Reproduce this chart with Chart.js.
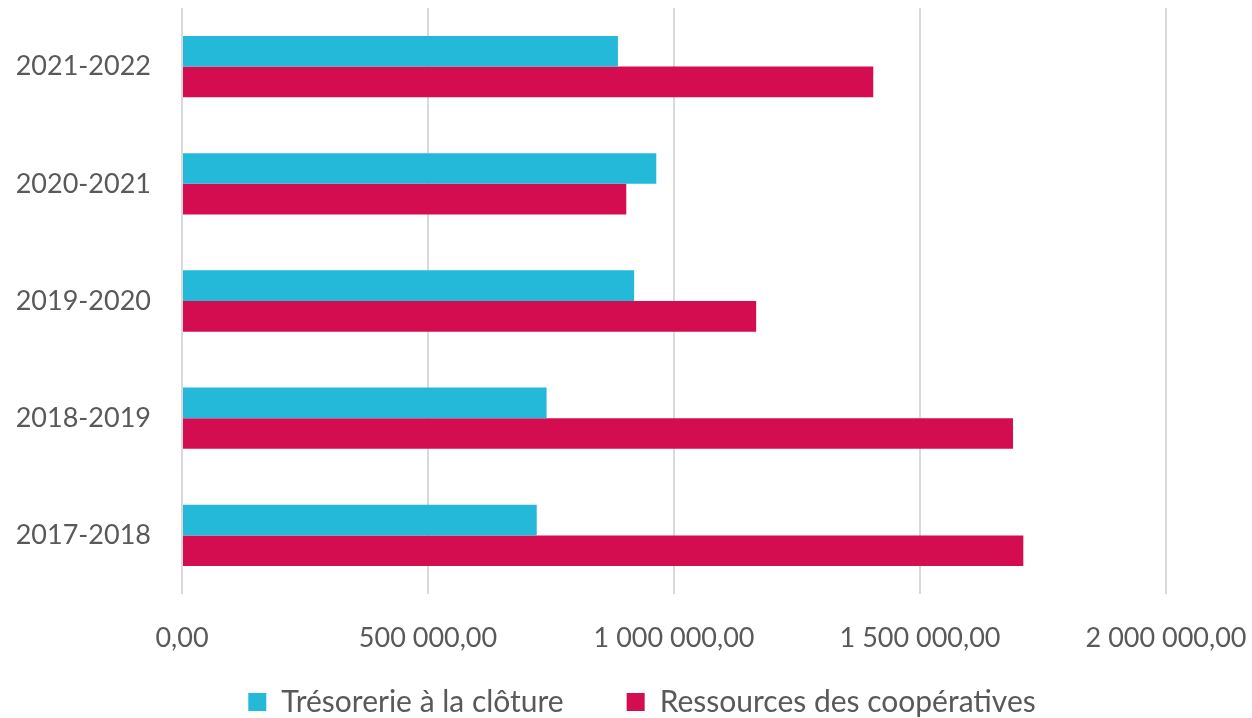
<!DOCTYPE html>
<html>
<head>
<meta charset="utf-8">
<script src="https://cdn.jsdelivr.net/npm/chart.js@4/dist/chart.umd.min.js"></script>
<style>
  html, body { margin: 0; padding: 0; background: #fff; }
  #wrap { width: 1252px; height: 718px; }
</style>
</head>
<body>
<div id="wrap"><canvas id="chart"></canvas></div>
<script>
// Data (top to bottom)
const years = ['2021-2022', '2020-2021', '2019-2020', '2018-2019', '2017-2018'];
const tresorerie = [886000, 964000, 919000, 741000, 721000];
const ressources = [1405000, 903000, 1167000, 1689000, 1710000];
const seriesNames = ['Trésorerie à la clôture', 'Ressources des coopératives'];

const textColor = '#595959';
const fontFamily = 'Lato, "Noto Sans", sans-serif';

// French style number: 1 500 000,00
function formatFr(v) {
    const parts = Number(v).toFixed(2).split('.');
    const intPart = parts[0].replace(/\B(?=(\d{3})+(?!\d))/g, ' ');
    return intPart + ',' + parts[1];
}

const ctx = document.getElementById('chart').getContext('2d');
new Chart(ctx, {
    type: 'bar',
    data: {
        labels: years,
        datasets: [
            { label: seriesNames[0], data: tresorerie, backgroundColor: '#25B9D9', borderWidth: 0 },
            { label: seriesNames[1], data: ressources, backgroundColor: '#D40C50', borderWidth: 0 },
        ],
    },
    options: {
        indexAxis: 'y',
        responsive: true,
        maintainAspectRatio: false,
        animation: false,
        // negative right padding shifts the centred legend to the right
        layout: { padding: { top: 8, right: -32, left: 0, bottom: -9 } },
        datasets: {
            bar: { categoryPercentage: 0.523, barPercentage: 1.0 },
        },
        scales: {
            x: {
                min: 0,
                max: 2000000,
                ticks: {
                    stepSize: 500000,
                    color: textColor,
                    font: { family: fontFamily, size: 27 },
                    // mirrored so the labels are not clipped to the short axis box
                    mirror: true,
                    padding: -60,
                    callback: (v) => formatFr(v),
                },
                grid: { color: '#D9D9D9', lineWidth: 2, drawTicks: false },
                border: { display: false },
                afterFit: (scale) => {
                    scale.height = 30;
                    scale.paddingLeft = 0;
                    scale.paddingRight = 86;
                },
            },
            y: {
                ticks: {
                    color: textColor,
                    font: { family: fontFamily, size: 27 },
                    padding: 0,
                },
                grid: { display: false, drawTicks: true, tickLength: 31 },
                border: { display: false },
                afterFit: (scale) => {
                    scale.width = 182;
                    scale.paddingTop = 0;
                    scale.paddingBottom = 0;
                },
            },
        },
        plugins: {
            legend: {
                position: 'bottom',
                labels: {
                    color: textColor,
                    font: { family: fontFamily, size: 30 },
                    boxWidth: 18,
                    boxHeight: 18,
                    padding: 63,
                },
            },
            tooltip: { enabled: false },
        },
    },
});
</script>
</body>
</html>
